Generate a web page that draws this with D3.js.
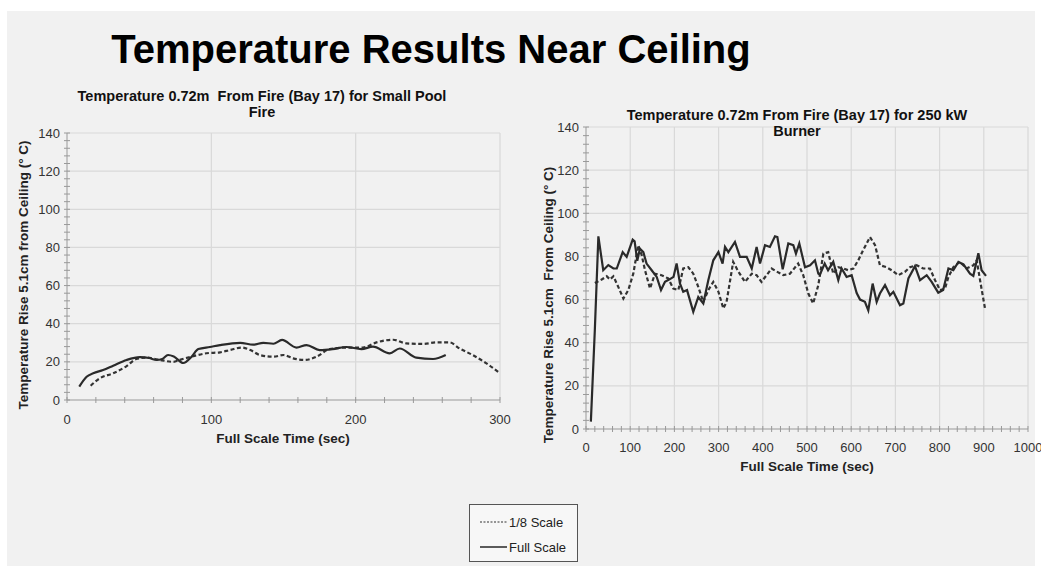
<!DOCTYPE html>
<html><head><meta charset="utf-8">
<script src="https://cdn.jsdelivr.net/npm/d3@7"></script>
<style>body{margin:0;background:#fff}svg{display:block}text{font-family:"Liberation Sans",Arial,sans-serif;white-space:pre}</style>
</head><body><svg id="c" width="1041" height="568"></svg>
<script>
// ---------- data ----------
const title = "Temperature Results Near Ceiling";
const leftTitle = ["Temperature 0.72m  From Fire (Bay 17) for Small Pool", "Fire"];
const rightTitle = ["Temperature 0.72m From Fire (Bay 17) for 250 kW", "Burner"];
const leftYLabel = "Temperature Rise 5.1cm from Ceiling (° C)";
const rightYLabel = "Temperature Rise 5.1cm  From Ceiling (° C)";
const xLabel = "Full Scale Time (sec)";
const legendLabels = ["1/8 Scale", "Full Scale"];
const leftXTicks = [0, 100, 200, 300];
const rightXTicks = [0,100,200,300,400,500,600,700,800,900,1000];
const yTicks = [0,20,40,60,80,100,120,140];

// Small pool fire, full scale (solid): [time, temp]
const poolFull = [[8.5,7],[13.6,12.2],[18.2,14],[25,15.7],[32,18],[41.3,21],[50.5,22.5],[57,22],[62,21],[66,21.5],[70,23.6],[74,22.8],[80.5,19.4],[86.3,22.7],[91,26.7],[99,27.8],[106,28.8],[120,30],[129,29],[136,30],[143,29.5],[149,31.5],[159,27.5],[166,28.8],[175,26.2],[184,26.7],[193.6,27.8],[204,26.7],[212,28],[223.6,24.5],[230.5,27],[242,22.2],[253.6,21.5],[262.4,23.6]];
// Small pool fire, 1/8 scale (dashed)
const poolScale = [[16.4,7.5],[22.8,11.4],[32,14],[41.3,17.8],[48,21.5],[55,22.2],[64.4,21],[73.6,20],[78,21],[87.5,23],[96.7,24.5],[106,25],[113,26.2],[121,27.5],[127,26.2],[133.6,23.6],[143,22.7],[150,23.6],[156.7,21.8],[164.8,21],[172.9,22.7],[182,26.7],[193.6,27.5],[205,27.5],[214.4,30.2],[226,31.6],[235,29.7],[246.7,29.4],[256,30.2],[265,30.2],[272,27],[281,23.6],[290.6,19.2],[300,14]];

// 250 kW burner, full scale (solid)
const burnerFull = [[11,3.4],[20,46],[28,89.3],[39,73.6],[50.5,76],[62,74.4],[69.6,74.4],[83,82],[92,79.8],[105.6,87.8],[110,87],[116,78],[122,83.6],[129.7,82],[137,76.7],[148.6,73.6],[160,70.5],[169.7,64.4],[178.7,68.2],[190,69.5],[198,70.5],[205,76.7],[212.7,67.4],[220,63.6],[228.6,64.4],[242.7,54.3],[254,61.2],[265.4,58.2],[276.7,69],[288,78.2],[299.6,82],[309,76.7],[314.5,84.4],[322,82],[337,86.7],[348.4,79.8],[363.5,79.8],[375,74.4],[386,84.4],[393.7,76.7],[405,85.2],[416,84.4],[427.6,89.3],[433,89],[445,74],[457.7,86],[469,85.2],[475,81.3],[482.6,86],[495.5,75],[507,75.9],[518,78.2],[525.6,72],[529,71.5],[540,76.7],[547.6,73.6],[559.4,77.5],[570.8,69],[578.3,74.4],[589.6,70.5],[601,71.3],[612.4,63],[620,60],[631,59],[638.7,55],[648.5,67.4],[657.6,58.9],[665,62.8],[676.5,66.7],[687.8,62],[695.4,63.6],[710.4,57.4],[718,58.2],[729.4,69.8],[744.3,75.5],[755.7,69],[770.8,71.3],[782,68.2],[797,63.2],[808,64.4],[820,74.4],[831,73.6],[842.5,77.5],[854,76.3],[868.8,72],[876.3,71],[887.7,81.5],[895,73.6],[905,71]];
// 250 kW burner, 1/8 scale (dashed)
const burnerScale = [[20,67.7],[35.5,69.3],[46.8,70.8],[54.3,69.3],[62,70.8],[73,65.9],[84.5,60.5],[95.7,64.4],[107,72],[118.3,85.2],[126,80.6],[133.5,73.6],[144.8,65.1],[156,72],[171,71.3],[186,69.8],[197.6,65.1],[208.9,64.4],[220,74.4],[231.5,75],[242.7,72],[254,65.9],[265.4,58.9],[276.7,64.4],[288,68.2],[299.6,63.6],[310.6,55.9],[318,58.9],[333,77.5],[344.6,73],[359.7,68.2],[375,72],[386,71.3],[397,68.2],[408.5,71.3],[420,74.4],[431.4,73],[446.4,71.3],[461.5,72],[480,76.7],[491.5,71.3],[503,62.8],[514,58.2],[525.6,66.7],[537,81.3],[548,82],[559.4,72],[570.8,75],[582,74.4],[593.4,73.6],[605,74.4],[616,78.2],[627,82.9],[642.5,89],[654,85.2],[665,75.9],[680,75],[691.5,73.6],[706.6,71.3],[721.7,72.9],[733,75],[748,75.9],[763,74.4],[778.3,74.4],[789.6,69],[801,64.4],[812,65],[820,70.5],[831,75],[846,77.5],[861,74.4],[876.3,75.9],[884,78.2],[891.5,69],[902.7,55.9]];

// ---------- drawing ----------
const svg = d3.select("#c");
svg.append("rect").attr("x",7).attr("y",11).attr("width",1028).attr("height",555).attr("fill","#f1f1f1");

svg.append("text").attr("x",431).attr("y",63).attr("text-anchor","middle")
  .attr("font-size",40).attr("font-weight","bold").attr("fill","#000").text(title);

function panel(cfg){
  const x = d3.scaleLinear().domain(cfg.xDomain).range([cfg.x0, cfg.x1]);
  const y = d3.scaleLinear().domain([0,140]).range([cfg.y0, cfg.y1]);
  const g = svg.append("g");
  // grid
  g.selectAll(".hg").data(yTicks.slice(1)).join("line")
    .attr("x1",cfg.x0).attr("x2",cfg.x1).attr("y1",d=>y(d)).attr("y2",d=>y(d))
    .attr("stroke","#d9d9d9").attr("stroke-width",1.2);
  g.selectAll(".vg").data(cfg.xTicks.slice(1)).join("line")
    .attr("x1",d=>x(d)).attr("x2",d=>x(d)).attr("y1",cfg.y0).attr("y2",cfg.y1)
    .attr("stroke","#d9d9d9").attr("stroke-width",1.2);
  // axes lines
  g.append("line").attr("x1",cfg.x0).attr("x2",cfg.x0).attr("y1",cfg.y0).attr("y2",cfg.y1).attr("stroke","#999");
  g.append("line").attr("x1",cfg.x0).attr("x2",cfg.x1).attr("y1",cfg.y0).attr("y2",cfg.y0).attr("stroke","#999");
  // minor ticks
  g.selectAll(".ym").data(d3.range(0,141,4)).join("line")
    .attr("x1",cfg.x0-3).attr("x2",cfg.x0+3).attr("y1",d=>y(d)).attr("y2",d=>y(d)).attr("stroke","#999");
  g.selectAll(".xm").data(d3.range(cfg.xDomain[0],cfg.xDomain[1]+1,20)).join("line")
    .attr("x1",d=>x(d)).attr("x2",d=>x(d)).attr("y1",cfg.y0-3).attr("y2",cfg.y0+3).attr("stroke","#999");
  // tick labels
  g.selectAll(".yl").data(yTicks).join("text")
    .attr("x",cfg.x0-7).attr("y",d=>y(d)+4.5).attr("text-anchor","end")
    .attr("font-size",13).attr("fill","#333").text(d=>d);
  g.selectAll(".xl").data(cfg.xTicks).join("text")
    .attr("x",d=>x(d)).attr("y",cfg.y0+cfg.xLabDy).attr("text-anchor","middle")
    .attr("font-size",13).attr("fill","#333").text(d=>d);
  // titles
  cfg.title.forEach((t,i)=>g.append("text").attr("x",cfg.tx).attr("y",cfg.ty+i*16)
    .attr("text-anchor","middle").attr("font-size",14.5).attr("font-weight","bold").attr("fill","#111").text(t));
  g.append("text").attr("transform",`translate(${cfg.ylx},${cfg.yly}) rotate(-90)`)
    .attr("text-anchor","middle").attr("font-size",13.5).attr("font-weight","bold").attr("fill","#222").text(cfg.ylab);
  g.append("text").attr("x",cfg.xlx).attr("y",cfg.xly).attr("text-anchor","middle")
    .attr("font-size",13.5).attr("font-weight","bold").attr("fill","#222").text(xLabel);
  // lines
  const line = d3.line().x(d=>x(d[0])).y(d=>y(d[1])).curve(cfg.curve);
  g.append("path").datum(cfg.dashed).attr("d",line).attr("fill","none")
    .attr("stroke","#333").attr("stroke-width",2.2).attr("stroke-dasharray","4,2.5");
  g.append("path").datum(cfg.solid).attr("d",line).attr("fill","none")
    .attr("stroke","#2a2a2a").attr("stroke-width",2.2);
}

panel({xDomain:[0,300], x0:67, x1:500, y0:400, y1:133, xTicks:leftXTicks, xLabDy:24,
  title:leftTitle, tx:262, ty:101, ylab:leftYLabel, ylx:28, yly:275, xlx:283, xly:443,
  solid:poolFull, dashed:poolScale, curve:d3.curveMonotoneX});
panel({xDomain:[0,1000], x0:586, x1:1028, y0:429, y1:127, xTicks:rightXTicks, xLabDy:23,
  title:rightTitle, tx:797, ty:120, ylab:rightYLabel, ylx:553, yly:305, xlx:807, xly:471,
  solid:burnerFull, dashed:burnerScale, curve:d3.curveLinear});

// legend
const lg = svg.append("g");
lg.append("rect").attr("x",469.5).attr("y",504.5).attr("width",108).attr("height",57)
  .attr("fill","#f7f7f7").attr("stroke","#555").attr("stroke-width",1);
legendLabels.forEach((t,i)=>{
  const yy = 522 + i*25;
  lg.append("line").attr("x1",480).attr("x2",507).attr("y1",yy).attr("y2",yy)
    .attr("stroke","#333").attr("stroke-width",i?1.6:1.2).attr("stroke-dasharray",i?null:"2,1.5");
  lg.append("text").attr("x",509).attr("y",yy+4.5).attr("font-size",13)
    .attr("font-family","'Open Sans',sans-serif").attr("fill","#222").text(t);
});
</script></body></html>
